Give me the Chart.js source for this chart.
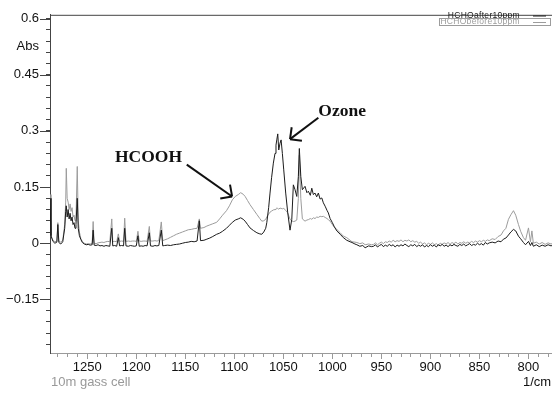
<!DOCTYPE html>
<html lang="en">
<head>
  <meta charset="UTF-8">
  <title>HCHO FTIR spectrum</title>
  <script src="https://cdn.jsdelivr.net/npm/chart.js"></script>
  <style>
    html, body { margin: 0; padding: 0; background: #fff; }
    canvas { display: block; }
  </style>
</head>
<body>
  <canvas id="spectrum" width="552" height="394"></canvas>

  <script>
    // wavenumber (1/cm) and absorbance of the two runs, read point by point
    const wavenumbers = [
      1288, 1287, 1285, 1283, 1281, 1280, 1279, 1277, 1275, 1273, 1272, 1271.4, 1270.5, 1269.5,
      1268.5, 1267.5, 1266.5, 1265.5, 1264.5, 1263.5, 1262.5, 1261.5, 1260.2, 1259.2, 1258, 1256.5, 1255,
      1253, 1251, 1249, 1247, 1245, 1244, 1243, 1241, 1239, 1237, 1235, 1233, 1231, 1229, 1227,
      1225, 1224, 1222, 1220, 1218.3, 1217, 1215, 1213, 1211.8, 1210.5, 1208, 1206, 1204, 1202, 1200,
      1198.3, 1197, 1195, 1193, 1191, 1189, 1186.7, 1185.5, 1183, 1181, 1179, 1177, 1174.5, 1173, 1171,
      1168, 1165, 1162, 1159, 1156, 1153, 1150, 1147, 1144, 1141, 1138, 1135.7, 1134.5, 1131, 1128,
      1125, 1122, 1118, 1115, 1112, 1108, 1105, 1102, 1099, 1096, 1093.5, 1091, 1089, 1086.5, 1084,
      1080.5, 1077,
      1074, 1072, 1070, 1068, 1066.9, 1065, 1063.6, 1062, 1060.2, 1058.5, 1057.5, 1056.7, 1055.7, 1054.7,
      1053.4, 1052.3, 1051, 1049.6, 1047.6, 1045.5, 1043.2, 1041.4, 1039.8, 1038.1, 1036.3, 1034.7,
      1033.7, 1032.2, 1030.6,
      1027.9, 1026, 1024.5, 1022.5, 1021, 1019.4, 1017.7, 1016, 1014.3, 1012.5, 1010.8, 1009.2, 1007.4,
      1005.5, 1004.1, 1002.3, 1000, 998, 995.5, 992, 988.8, 985.3, 982, 980, 977, 975, 972, 969, 966.6,
      963, 960,
      958, 956, 954, 952, 950, 948, 946, 944, 942, 940,
      938, 936, 934, 932, 930, 928, 926, 924, 922, 920,
      918, 916, 914, 912, 910, 908, 906, 904, 902, 900,
      898, 896, 894, 892, 890, 888, 886, 884, 882, 880,
      878, 876, 874, 872, 870, 868, 866, 864, 862, 860,
      858, 856, 854, 852, 850, 848, 846, 844, 842, 840,
      837, 834, 831, 828, 825.5, 823, 820.4, 818, 815.3, 813, 810.2, 808, 805.1, 803, 800, 798, 796.5,
      795, 792, 789, 786, 783, 780, 777, 776
    ];

    const absAfter = [
      0.12, 0.02, 0.005, 0.0, 0.003, 0.05, 0.002, -0.002, 0.004, 0.04, 0.085, 0.10, 0.07, 0.09,
      0.065, 0.08, 0.06, 0.07, 0.05, 0.055, 0.04, 0.05, 0.12, 0.04, 0.02, 0.01, 0.002,
      -0.002, -0.004, -0.003, -0.005, -0.004, 0.035, -0.005, -0.006, -0.004, -0.007, -0.006, -0.008, -0.006, -0.007, -0.008,
      0.04, -0.007, -0.006, -0.008, 0.015, -0.007, -0.006, -0.007, 0.04, -0.007, -0.008, -0.006, -0.007, -0.008, -0.007,
      0.02, -0.008, -0.007, -0.008, -0.006, -0.007, 0.028, -0.007, -0.008, -0.006, -0.007, -0.006, 0.035, -0.007, -0.006,
      -0.005, -0.006, -0.004, -0.003, -0.002, 0.0, 0.002, 0.003, 0.005, 0.004, 0.006, 0.06, 0.007, 0.008,
      0.011, 0.014, 0.018, 0.024, 0.027, 0.032, 0.04, 0.048, 0.056, 0.062, 0.065, 0.068, 0.064, 0.059, 0.05, 0.041,
      0.034, 0.028,
      0.025, 0.024, 0.03, 0.04, 0.055, 0.095, 0.134, 0.175, 0.214, 0.24, 0.262, 0.276, 0.292, 0.249,
      0.267, 0.276, 0.24, 0.196, 0.134, 0.081, 0.035, 0.064, 0.156, 0.143, 0.125, 0.178,
      0.253, 0.178, 0.143,
      0.152, 0.135, 0.139, 0.128, 0.147, 0.13, 0.134, 0.124, 0.134, 0.118, 0.121, 0.108, 0.099,
      0.088, 0.081, 0.066, 0.055, 0.044, 0.033, 0.024, 0.015, 0.008, 0.004, 0.002, -0.002, -0.004, -0.008, -0.006, -0.012,
      -0.007, -0.009,
      -0.008, -0.004, -0.01, -0.006, -0.003, -0.009, -0.005, -0.008, -0.003, -0.007,
      -0.004, -0.01, -0.005, -0.008, -0.004, -0.007, -0.002, -0.006, -0.009, -0.004,
      -0.007, -0.003, -0.009, -0.005, -0.008, -0.004, -0.01, -0.006, -0.009, -0.004,
      -0.008, -0.005, -0.01, -0.004, -0.007, -0.003, -0.008, -0.005, -0.009, -0.004,
      -0.007, -0.003, -0.006, -0.008, -0.003, -0.006, -0.002, -0.007, -0.004, -0.001,
      -0.006, -0.003, -0.005, 0.0, -0.004, -0.001, -0.005, 0.002, -0.002, 0.001,
      0.003, 0.001, 0.006, 0.004, 0.011, 0.014, 0.022, 0.03, 0.037, 0.033, 0.019, 0.012, 0.002, -0.004, 0.005, -0.006, 0.002,
      -0.008, -0.004, -0.009, -0.005, -0.008, -0.004, -0.007, -0.006
    ];

    const absBefore = [
      0.13, 0.02, 0.008, 0.004, 0.006, 0.055, 0.006, 0.003, 0.008, 0.05, 0.11, 0.2, 0.12, 0.11,
      0.09, 0.105, 0.085, 0.095, 0.07, 0.075, 0.06, 0.065, 0.205, 0.06, 0.03, 0.012, 0.005,
      0.0, -0.002, -0.001, -0.002, 0.0, 0.058, 0.0, -0.001, 0.001, 0.002, 0.003, 0.002, 0.004, 0.005, 0.004,
      0.065, 0.004, 0.005, 0.004, 0.025, 0.005, 0.006, 0.005, 0.067, 0.005, 0.006, 0.005, 0.006, 0.006, 0.005,
      0.032, 0.006, 0.005, 0.006, 0.006, 0.005, 0.045, 0.006, 0.006, 0.007, 0.006, 0.007, 0.057, 0.007, 0.009,
      0.012, 0.016, 0.02, 0.024, 0.027, 0.03, 0.033, 0.036, 0.037, 0.039, 0.04, 0.065, 0.04, 0.042,
      0.046, 0.049, 0.052, 0.056, 0.065, 0.075, 0.087, 0.1, 0.116, 0.125, 0.13, 0.135, 0.131, 0.125, 0.114, 0.103,
      0.09, 0.077,
      0.066, 0.059, 0.06, 0.064, 0.07, 0.078, 0.083, 0.086, 0.089, 0.09, 0.092, 0.094, 0.093, 0.091,
      0.094, 0.093, 0.092, 0.093, 0.088, 0.081, 0.064, 0.06, 0.058, 0.059, 0.062, 0.12,
      0.235, 0.12, 0.065,
      0.059, 0.062, 0.063, 0.066, 0.064, 0.068, 0.066, 0.07, 0.069, 0.072, 0.071, 0.072, 0.069,
      0.066, 0.063, 0.059, 0.05, 0.043, 0.037, 0.028, 0.019, 0.015, 0.008, 0.004, 0.003, 0.002, -0.001, 0.001, -0.004,
      -0.002, -0.004,
      -0.003, 0.001, -0.004, 0.0, 0.003, -0.001, 0.004, 0.002, 0.006, 0.003,
      0.008, 0.004, 0.007, 0.005, 0.009, 0.004, 0.008, 0.006, 0.009, 0.004,
      0.007, 0.003, 0.005, 0.0, 0.003, -0.002, 0.001, -0.004, 0.0, -0.003,
      0.001, -0.004, -0.001, -0.005, 0.0, -0.003, 0.001, -0.002, 0.002, -0.003,
      0.002, -0.001, 0.003, -0.002, 0.002, 0.0, 0.004, 0.0, 0.003, 0.001,
      0.005, 0.002, 0.006, 0.003, 0.007, 0.004, 0.008, 0.005, 0.009, 0.007,
      0.012, 0.01, 0.018, 0.022, 0.033, 0.04, 0.064, 0.076, 0.087, 0.075, 0.05, 0.032, 0.015, 0.008, 0.041, 0.004, 0.033,
      0.0, 0.003, -0.002, 0.002, -0.003, 0.001, -0.002, -0.001
    ];

    const seriesNames = ['HCHOafter10ppm', 'HCHObefore10ppm'];
    const seriesColors = ['#1c1c1c', '#9c9c9c'];

    // band labels with their arrows, in data units (wavenumber, absorbance)
    const bandLabels = [
      { text: 'HCOOH', at: [1221.7, 0.229], tail: [1148.5, 0.210], tip: [1102.3, 0.125] },
      { text: 'Ozone', at: [1014.3, 0.352], tail: [1014.3, 0.335], tip: [1043.2, 0.278] }
    ];

    const toPoints = values => wavenumbers.map((wn, i) => ({ x: wn, y: values[i] }));

    Chart.defaults.font.family = "'Liberation Sans', Arial, sans-serif";

    function line(ctx, x1, y1, x2, y2) {
      ctx.beginPath();
      ctx.moveTo(x1, y1);
      ctx.lineTo(x2, y2);
      ctx.stroke();
    }

    const decorations = {
      id: 'decorations',
      afterDraw(chart) {
        const { ctx, chartArea: area, scales: { x, y } } = chart;
        ctx.save();

        // top edge of the frame
        ctx.strokeStyle = '#444';
        ctx.lineWidth = 1;
        line(ctx, area.left, area.top + 0.5, area.right, area.top + 0.5);

        // longer ticks where there is a label
        y.ticks.forEach(t => {
          if (!t.label) return;
          const py = Math.round(y.getPixelForValue(t.value)) + 0.5;
          line(ctx, area.left - 10, py, area.left, py);
        });
        ctx.strokeStyle = '#9a9a9a';
        x.ticks.forEach(t => {
          if (!t.label) return;
          const px = Math.round(x.getPixelForValue(t.value)) + 0.5;
          line(ctx, px, area.bottom, px, area.bottom + 6);
        });

        // axis captions
        ctx.fillStyle = '#111';
        ctx.font = "13px 'Liberation Sans', Arial, sans-serif";
        ctx.textAlign = 'right';
        ctx.textBaseline = 'middle';
        ctx.fillText('Abs', area.left - 11, 46);
        ctx.textAlign = 'left';
        ctx.fillText('1/cm', 523, 382);
        ctx.fillStyle = '#999';
        ctx.fillText('10m gass cell', area.left + 1, 382);

        // band labels
        ctx.fillStyle = '#111';
        ctx.strokeStyle = '#111';
        ctx.lineWidth = 2;
        ctx.font = "bold 17.5px 'Liberation Serif', 'Times New Roman', serif";
        bandLabels.forEach(b => {
          ctx.fillText(b.text, x.getPixelForValue(b.at[0]), y.getPixelForValue(b.at[1]));
          const x1 = x.getPixelForValue(b.tail[0]), y1 = y.getPixelForValue(b.tail[1]);
          const x2 = x.getPixelForValue(b.tip[0]), y2 = y.getPixelForValue(b.tip[1]);
          line(ctx, x1, y1, x2, y2);
          const back = Math.atan2(y1 - y2, x1 - x2);
          [-Math.PI / 4, Math.PI / 4].forEach(d => {
            line(ctx, x2, y2, x2 + 12 * Math.cos(back + d), y2 + 12 * Math.sin(back + d));
          });
        });

        // legend in the top right corner
        ctx.lineWidth = 1;
        ctx.font = "8.5px 'Liberation Sans', Arial, sans-serif";
        ctx.letterSpacing = '0.3px';
        ctx.textAlign = 'right';
        const rows = [15.5, 22];
        seriesNames.forEach((name, i) => {
          ctx.fillStyle = seriesColors[i];
          ctx.strokeStyle = seriesColors[i];
          ctx.fillText(name, 520, rows[i]);
          line(ctx, 533, rows[i] + 0.5, 546, rows[i] + 0.5);
        });
        ctx.strokeStyle = '#9c9c9c';
        ctx.strokeRect(439.5, 18.5, 111, 7);

        ctx.restore();
      }
    };

    new Chart(document.getElementById('spectrum'), {
      type: 'line',
      data: {
        datasets: [
          { label: seriesNames[0], data: toPoints(absAfter), borderColor: seriesColors[0] },
          { label: seriesNames[1], data: toPoints(absBefore), borderColor: seriesColors[1] }
        ]
      },
      options: {
        responsive: false,
        animation: false,
        devicePixelRatio: 1,
        layout: { padding: { top: 12, left: 0, right: 0, bottom: 0 } },
        elements: {
          point: { radius: 0 },
          line: { borderWidth: 1, tension: 0 }
        },
        plugins: {
          legend: { display: false },
          tooltip: { enabled: false }
        },
        scales: {
          x: {
            type: 'linear',
            reverse: true,
            min: 776,
            max: 1288,
            afterFit: s => { s.height = 41; },
            border: { color: '#9a9a9a' },
            grid: { drawOnChartArea: false, tickLength: 4, color: '#9a9a9a' },
            ticks: {
              stepSize: 10,
              autoSkip: false,
              maxRotation: 0,
              includeBounds: false,
              padding: 3,
              color: '#111',
              font: { size: 13 },
              callback: v => (v % 50 === 0 ? String(v) : '')
            }
          },
          y: {
            min: -0.293,
            max: 0.61,
            afterFit: s => { s.width = 50; },
            border: { color: '#444' },
            grid: { drawOnChartArea: false, tickLength: 4, color: '#444' },
            ticks: {
              stepSize: 0.03,
              autoSkip: false,
              includeBounds: false,
              padding: 7,
              color: '#111',
              font: { size: 13 },
              callback: v => {
                const r = Math.round(v * 100);
                if (r % 15 !== 0) return '';
                if (r === 0) return '0';
                return (r < 0 ? '\u2212' : '') + String(Math.abs(r) / 100);
              }
            }
          }
        }
      },
      plugins: [decorations]
    });
  </script>
</body>
</html>
